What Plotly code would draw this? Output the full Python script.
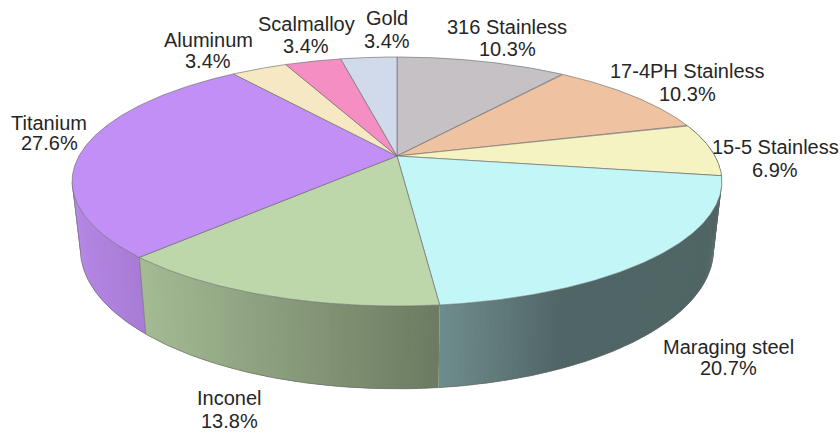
import numpy as np
import plotly.graph_objects as go

# ---- data ----
categories = ["316 Stainless", "17-4PH Stainless", "15-5 Stainless", "Maraging steel",
              "Inconel", "Titanium", "Aluminum", "Scalmalloy", "Gold"]
percent = [10.3, 10.3, 6.9, 20.7, 13.8, 27.6, 3.4, 3.4, 3.4]

# ---- styles ----
top_colors = ["#C5C1C4", "#EFC2A2", "#F5F3C2", "#C3F6F6", "#BDD7AA", "#C18FF5", "#F5E8C3", "#F58FC3", "#D0DAEA"]
# label centre x, y of name line, y of percent line
label_pos = [(507, 27, 49), (687, 71, 94), (775, 147, 170), (728, 347, 368), (229, 398, 421),
             (49, 123, 143), (208, 40, 61), (306, 24, 46), (387, 18, 41)]
EDGE = "rgba(105,105,105,0.7)"
FONT = dict(family="Liberation Sans, Arial, sans-serif", size=20, color="#262626")

# perspective disc projection
CX, CY, A, B, K = 397.0, 156.0, 318.0, 119.3, 0.205
CY2, A2, B2, K2 = 220.3, 310.0, 134.0, 0.205


def rim(theta_deg, lower=False):
    t = np.radians(theta_deg)
    u, v = np.sin(t), np.cos(t)
    if lower:
        d = 1 + K2 * v
        return CX + A2 * u / d, CY2 - B2 * v / d
    d = 1 + K * v
    return CX + A * u / d, CY - B * v / d


def shade(x):
    return float(np.interp(x, [80, 147, 440, 565], [0.93, 0.86, 0.57, 0.41]))


def scaled(hex_color, f):
    r, g, b = (int(hex_color[i:i + 2], 16) for i in (1, 3, 5))
    return f"rgb({r * f:.0f},{g * f:.0f},{b * f:.0f})"


total = sum(percent)
edges = np.concatenate([[0], np.cumsum(percent)]) / total * 360
SILHOUETTE = 258.0

fig = go.Figure()

# side wall, visible part only
for i in range(len(percent)):
    a0, a1 = edges[i], min(edges[i + 1], SILHOUETTE)
    if a1 <= a0 or a1 < 99:
        continue
    steps = max(int((a1 - a0) / 0.75), 1)
    grid = np.linspace(a0, a1, steps + 1)
    for t0, t1 in zip(grid[:-1], grid[1:]):
        t_end = min(t1 + 0.6, a1)
        seg = np.array([t0, t_end])
        xt, yt = rim(seg)
        xb, yb = rim(seg, True)
        col = scaled(top_colors[i], shade(float(rim((t0 + t1) / 2)[0])))
        fig.add_trace(go.Scatter(x=[xt[0], xt[1], xb[1], xb[0], xt[0]],
                                 y=[yt[0], yt[1], yb[1], yb[0], yt[0]], mode="lines",
                                 fill="toself", fillcolor=col, line=dict(width=0),
                                 hoverinfo="skip", showlegend=False))

# wall outlines
for i in range(len(percent)):
    a0, a1 = edges[i], min(edges[i + 1], SILHOUETTE)
    if a1 <= a0 or a1 < 99:
        continue
    g2 = np.linspace(a0, a1, 200)
    xb, yb = rim(g2, True)
    xs, ys = list(xb), list(yb)
    if i in (3, 5):  # silhouette / Titanium start
        x_a, y_a = rim(a0)
        xs, ys = [x_a] + xs, [y_a] + ys
    if i == 5:
        x_e, y_e = rim(a1)
        xs, ys = xs + [x_e], ys + [y_e]
    fig.add_trace(go.Scatter(x=xs, y=ys, mode="lines", line=dict(color=EDGE, width=0.9),
                             hoverinfo="skip", showlegend=False))

# top face
for i in range(len(percent)):
    g = np.linspace(edges[i], edges[i + 1], 160)
    xr, yr = rim(g)
    fig.add_trace(go.Scatter(x=[CX] + list(xr) + [CX], y=[CY] + list(yr) + [CY], mode="lines",
                             fill="toself", fillcolor=top_colors[i], line=dict(color=EDGE, width=0.9),
                             hoverinfo="skip", showlegend=False))

for name, p, (lx, y1, y2) in zip(categories, percent, label_pos):
    for txt, ly in ((name, y1), (f"{p}%", y2)):
        fig.add_annotation(x=lx, y=ly, text=txt, showarrow=False, xanchor="center",
                           yanchor="middle", align="center", font=FONT)

fig.update_layout(width=840, height=433, margin=dict(l=0, r=0, t=0, b=0), paper_bgcolor="white",
                  plot_bgcolor="white", showlegend=False,
                  xaxis=dict(range=[0, 840], visible=False, fixedrange=True),
                  yaxis=dict(range=[433, 0], visible=False, fixedrange=True))
fig.write_html("out.html", config=dict(displayModeBar=False),
               post_script="document.body.style.margin='0';")
